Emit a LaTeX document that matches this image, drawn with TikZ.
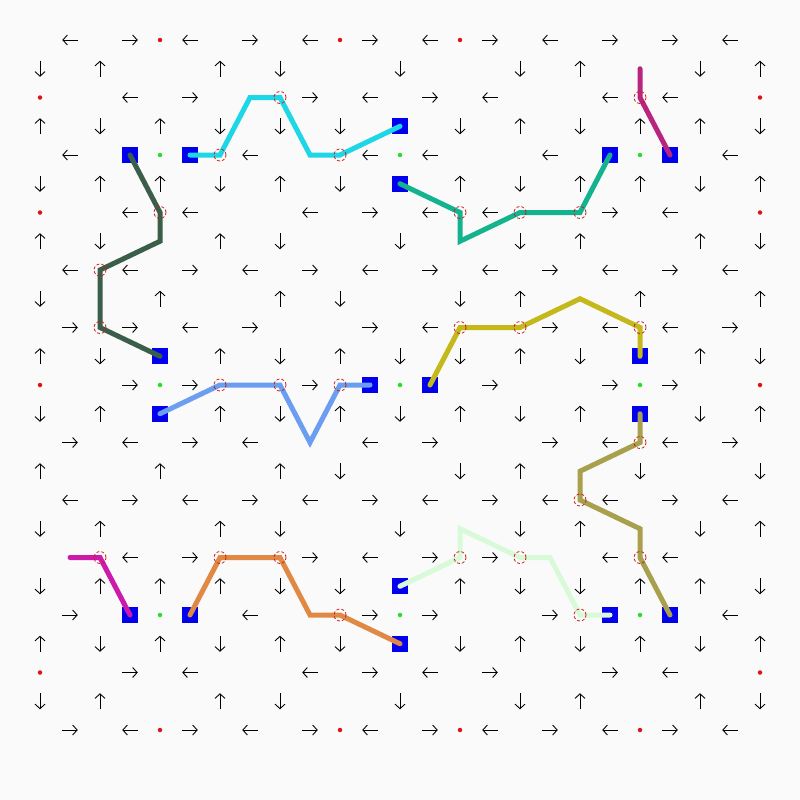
\documentclass[tikz,border=0pt]{standalone}
\usetikzlibrary{arrows.meta}
\definecolor{paper}{RGB}{250,250,250}
\definecolor{sqblue}{RGB}{0,0,238}
\definecolor{dotred}{RGB}{220,20,20}
\definecolor{ringred}{RGB}{200,30,30}
\definecolor{dotgreen}{RGB}{40,220,40}
\definecolor{pine}{RGB}{58,94,74}
\definecolor{aqua}{RGB}{30,215,230}
\definecolor{sea}{RGB}{20,179,143}
\definecolor{plum}{RGB}{184,36,126}
\definecolor{sky}{RGB}{107,158,240}
\definecolor{mustard}{RGB}{196,184,26}
\definecolor{khaki}{RGB}{168,160,76}
\definecolor{mint}{RGB}{216,250,216}
\definecolor{fuchsia}{RGB}{204,26,171}
\definecolor{apricot}{RGB}{224,137,68}
\begin{document}
\begin{tikzpicture}[x=1pt,y=-1pt,
    >={Straight Barb[length=4.5pt,width=10pt]},
    arr/.style={->,line width=0.9pt},
    sq/.style={fill=sqblue,inner sep=0pt,minimum size=16pt},
    hole/.style={circle,draw=ringred,densely dashed,line width=0.8pt,inner sep=0pt,minimum size=12pt},
    reddot/.style={circle,fill=dotred,inner sep=0pt,minimum size=4.5pt},
    greendot/.style={circle,fill=dotgreen,inner sep=0pt,minimum size=4.5pt},
    route/.style={line width=5pt,line cap=round}]
    \fill[paper] (0,0) rectangle (800,800);
    \foreach \i in {0,...,24}
        \foreach \j in {0,...,24}
            \coordinate (g-\i-\j) at ({40+30*\i},{40+28.75*\j});
    % arrows on the grid
    \foreach \i/\j in {1/0,5/0,9/0,13/0,17/0,23/0, 3/2,11/2,15/2,19/2,21/2,
        1/4,7/4,11/4,13/4,17/4,23/4, 3/6,5/6,9/6,13/6,15/6,21/6,
        1/8,3/8,7/8,11/8,15/8,19/8,23/8, 5/10,13/10,19/10,21/10,
        3/14,7/14,11/14,19/14,21/14, 1/16,5/16,9/16,13/16,17/16,19/16,23/16,
        3/18,11/18,19/18,21/18, 7/20,23/20, 5/22,9/22,13/22,21/22,
        3/24,7/24,11/24,15/24,19/24,23/24}
        \draw[arr] ([xshift=7.75pt]g-\i-\j) -- ([xshift=-7.75pt]g-\i-\j);
    \foreach \i/\j in {3/0,7/0,11/0,15/0,19/0,21/0, 5/2,9/2,13/2, 11/6,19/6,
        5/8,9/8,13/8,17/8,21/8, 1/10,3/10,7/10,11/10,17/10,23/10,
        3/12,5/12,9/12,15/12,19/12,21/12, 1/14,5/14,13/14,17/14,23/14,
        3/16,7/16,11/16,15/16,21/16, 5/18,9/18,13/18,15/18,
        1/20,11/20,13/20,17/20, 3/22,11/22,15/22,19/22,
        1/24,5/24,9/24,13/24,17/24,21/24}
        \draw[arr] ([xshift=-7.75pt]g-\i-\j) -- ([xshift=7.75pt]g-\i-\j);
    \foreach \i/\j in {2/1,6/1,18/1,24/1, 0/3,4/3,16/3,20/3,22/3,
        2/5,4/5,8/5,14/5,18/5,20/5,24/5, 0/7,6/7,18/7,22/7,
        4/9,8/9,16/9,20/9,24/9, 0/11,6/11,10/11,16/11,22/11,
        2/13,6/13,10/13,14/13,18/13,24/13, 0/15,4/15,8/15,16/15,
        2/17,6/17,18/17,24/17, 2/19,4/19,6/19,14/19,20/19,22/19,
        0/21,4/21,8/21,16/21,20/21,24/21, 2/23,6/23,18/23,22/23}
        \draw[arr] ([yshift=-8pt]g-\i-\j) -- ([yshift=8pt]g-\i-\j);
    \foreach \i/\j in {0/1,8/1,12/1,16/1,22/1, 2/3,6/3,8/3,10/3,14/3,18/3,24/3,
        0/5,6/5,10/5,16/5,22/5, 2/7,8/7,12/7,16/7,24/7, 0/9,10/9,14/9,
        2/11,8/11,12/11,14/11,18/11,24/11, 0/13,8/13,12/13,16/13,22/13,
        10/15,14/15,20/15,24/15, 0/17,8/17,12/17,16/17,22/17,
        0/19,8/19,10/19,16/19,18/19,24/19, 2/21,6/21,10/21,14/21,18/21,22/21,
        0/23,8/23,12/23,16/23,24/23}
        \draw[arr] ([yshift=8pt]g-\i-\j) -- ([yshift=-8pt]g-\i-\j);
    % dots
    \foreach \i/\j in {4/0,10/0,14/0,0/2,24/2,0/6,24/6,0/12,24/12,0/22,24/22,
        4/24,10/24,14/24,20/24}
        \node[reddot] (r-\i-\j) at (g-\i-\j) {};
    \foreach \i/\j in {4/4,12/4,20/4,4/12,12/12,20/12,4/20,12/20,20/20}
        \node[greendot] (e-\i-\j) at (g-\i-\j) {};
    \foreach \i/\j in {3/4,5/4,12/3,12/5,19/4,21/4,4/11,4/13,11/12,13/12,
        20/11,20/13,3/20,5/20,12/19,12/21,19/20,21/20}
        \node[sq] (b-\i-\j) at (g-\i-\j) {};
    % routes
    \draw[route,pine] (g-3-4) -- (g-4-6) -- (g-4-7) -- (g-2-8) -- (g-2-10) -- (g-4-11);
    \draw[route,aqua] (g-5-4) -- (g-6-4) -- (g-7-2) -- (g-8-2) -- (g-9-4) -- (g-10-4) -- (g-12-3);
    \draw[route,sea] (g-12-5) -- (g-14-6) -- (g-14-7) -- (g-16-6) -- (g-18-6) -- (g-19-4);
    \draw[route,plum] (g-20-1) -- (g-20-2) -- (g-21-4);
    \draw[route,sky] (g-4-13) -- (g-6-12) -- (g-8-12) -- (g-9-14) -- (g-10-12) -- (g-11-12);
    \draw[route,mustard] (g-13-12) -- (g-14-10) -- (g-16-10) -- (g-18-9) -- (g-20-10) -- (g-20-11);
    \draw[route,khaki] (g-20-13) -- (g-20-14) -- (g-18-15) -- (g-18-16) -- (g-20-17) -- (g-20-18) -- (g-21-20);
    \draw[route,mint] (g-12-19) -- (g-14-18) -- (g-14-17) -- (g-16-18) -- (g-17-18) -- (g-18-20) -- (g-19-20);
    \draw[route,fuchsia] (g-1-18) -- (g-2-18) -- (g-3-20);
    \draw[route,apricot] (g-5-20) -- (g-6-18) -- (g-8-18) -- (g-9-20) -- (g-10-20) -- (g-12-21);
    \foreach \i/\j in {6/4,10/4,8/2,20/2,4/6,14/6,16/6,18/6,2/8,2/10,14/10,16/10,20/10,
        6/12,8/12,10/12,20/14,18/16,2/18,6/18,8/18,14/18,16/18,20/18,10/20,18/20}
        \node[hole] (c-\i-\j) at (g-\i-\j) {};
\end{tikzpicture}
\end{document}
